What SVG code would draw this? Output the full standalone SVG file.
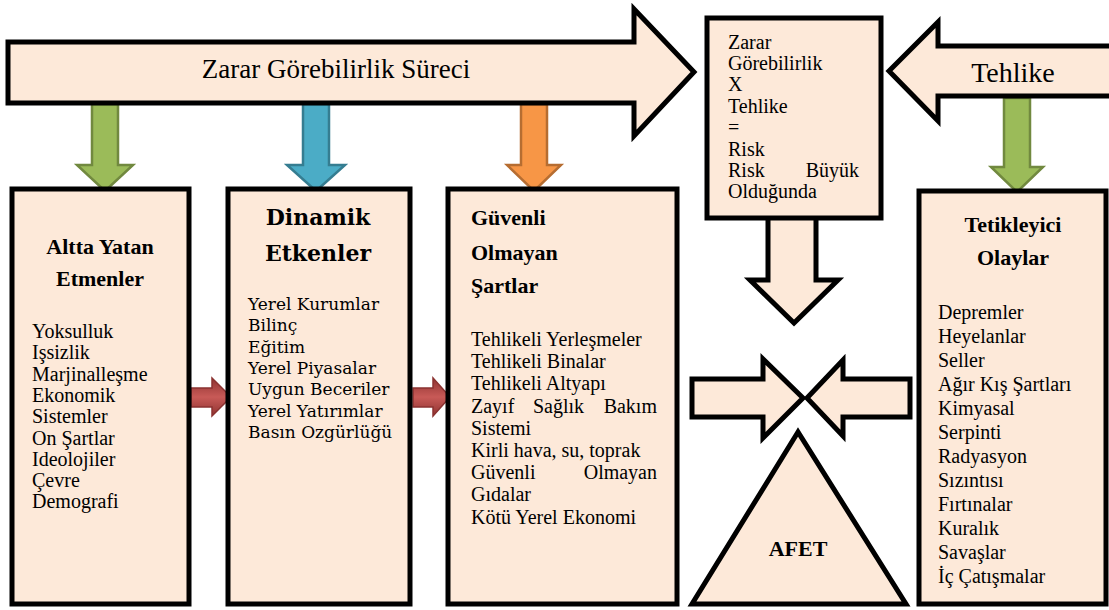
<svg xmlns="http://www.w3.org/2000/svg" width="1109" height="610" viewBox="0 0 1109 610">
  <defs>
    <linearGradient id="redFill" x1="0" y1="0" x2="0" y2="1">
      <stop offset="0" stop-color="#8f3331"/>
      <stop offset="0.5" stop-color="#c85a57"/>
      <stop offset="1" stop-color="#8f3331"/>
    </linearGradient>
  </defs>
  <rect width="1109" height="610" fill="#fff"/>
  <g id="connectors" stroke-width="2.5">
    <polygon fill="#9bbb59" stroke="#71893f" points="92,104 118,104 118,165 133,165 105,191 77,165 92,165"/>
    <polygon fill="#4bacc6" stroke="#357d91" points="303,104 329,104 329,165 345,165 316,191 287,165 303,165"/>
    <polygon fill="#f79646" stroke="#b66d31" points="521,104 547,104 547,165 561,165 534,191 507,165 521,165"/>
    <polygon fill="#9bbb59" stroke="#71893f" points="1004,98 1030,98 1030,167 1043,167 1017,192 991,167 1004,167"/>
    <polygon fill="url(#redFill)" stroke="#8b3230" stroke-width="1.5" points="191,388 212,388 212,378 231,397 212,416 212,407 191,407"/>
    <polygon fill="url(#redFill)" stroke="#8b3230" stroke-width="1.5" points="413,388 433,388 433,378 450,397 433,416 433,407 413,407"/>
  </g>
  <g id="process">
    <polygon fill="#fde9d9" stroke="#000" stroke-width="5" points="8,42 634,42 634,9 694,72 634,136 634,103 8,103"/>
  </g>
  <text x="336" y="78" text-anchor="middle" font-size="27" font-family="Liberation Serif">Zarar Görebilirlik Süreci</text>
  <g id="hazard">
    <polygon fill="#fde9d9" stroke="#000" stroke-width="5" points="1114,46 938,46 938,22 889,71 938,121 938,96 1114,96"/>
    <text x="1013" y="82" text-anchor="middle" font-size="28" font-family="serif">Tehlike</text>
  </g>
  <g id="risk">
    <polygon fill="#fde9d9" stroke="#000" stroke-width="5" points="768,214 768,280 750,280 794,323 838,280 816,280 816,214"/>
    <rect fill="#fde9d9" stroke="#000" stroke-width="5" x="707" y="18" width="174" height="200"/>
    <text x="728" y="49" font-size="20" font-family="Times New Roman">Zarar</text>
    <text x="728" y="70" font-size="20" font-family="Times New Roman">Görebilirlik</text>
    <text x="728" y="91" font-size="20" font-family="Times New Roman">X</text>
    <text x="728" y="112.5" font-size="20" font-family="Times New Roman">Tehlike</text>
    <text x="728" y="134" font-size="20" font-family="Times New Roman">=</text>
    <text x="728" y="155.5" font-size="20" font-family="Times New Roman">Risk</text>
    <text y="177" font-size="20" font-family="Times New Roman"><tspan x="728">Risk</tspan><tspan x="859" text-anchor="end">Büyük</tspan></text>
    <text x="728" y="198" font-size="20" font-family="Times New Roman">Olduğunda</text>
  </g>
  <g id="underlying">
    <rect fill="#fde9d9" stroke="#000" stroke-width="5" x="12" y="189" width="177" height="415"/>
    <text x="100" y="254" text-anchor="middle" style="font-family: 'Liberation Serif', serif; font-size: 22px; font-weight: bold">Altta Yatan</text>
    <text x="100" y="286" text-anchor="middle" style="font-family: 'Liberation Serif', serif; font-size: 22px; font-weight: bold">Etmenler</text>
    <text x="32" y="338" style="font-family: 'Liberation Serif', serif; font-size: 20px">Yoksulluk</text>
    <text x="32" y="359" style="font-family: 'Liberation Serif', serif; font-size: 20px">Işsizlik</text>
    <text x="32" y="380.5" style="font-family: 'Liberation Serif', serif; font-size: 20px">Marjinalleşme</text>
    <text x="32" y="402" style="font-family: 'Liberation Serif', serif; font-size: 20px">Ekonomik</text>
    <text x="32" y="423" style="font-family: 'Liberation Serif', serif; font-size: 20px">Sistemler</text>
    <text x="32" y="444.5" style="font-family: 'Liberation Serif', serif; font-size: 20px">On Şartlar</text>
    <text x="32" y="465.5" style="font-family: 'Liberation Serif', serif; font-size: 20px">Ideolojiler</text>
    <text x="32" y="487" style="font-family: 'Liberation Serif', serif; font-size: 20px">Çevre</text>
    <text x="32" y="508" style="font-family: 'Liberation Serif', serif; font-size: 20px">Demografi</text>
  </g>
  <g id="dynamic">
    <rect fill="#fde9d9" stroke="#000" stroke-width="5" x="228" y="189" width="182" height="415"/>
    <text x="318" y="225" text-anchor="middle" font-size="22" font-weight="bold" font-family="DejaVu Serif">Dinamik</text>
    <text x="318" y="261" text-anchor="middle" font-size="22" font-weight="bold" font-family="DejaVu Serif">Etkenler</text>
    <text x="248" y="310" font-size="17" font-family="DejaVu Serif">Yerel Kurumlar</text>
    <text x="248" y="331" font-size="17" font-family="DejaVu Serif">Bilinç</text>
    <text x="248" y="352.5" font-size="17" font-family="DejaVu Serif">Eğitim</text>
    <text x="248" y="374" font-size="17" font-family="DejaVu Serif">Yerel Piyasalar</text>
    <text x="248" y="395" font-size="17" font-family="DejaVu Serif">Uygun Beceriler</text>
    <text x="248" y="416.5" font-size="17" font-family="DejaVu Serif">Yerel Yatırımlar</text>
    <text x="248" y="438" font-size="17" font-family="DejaVu Serif">Basın Ozgürlüğü</text>
  </g>
  <g id="unsafe">
    <rect fill="#fde9d9" stroke="#000" stroke-width="5" x="448" y="189" width="229" height="415"/>
    <text x="471" y="225" font-size="22" font-weight="bold" font-family="Liberation Serif">Güvenli</text>
    <text x="471" y="260" font-size="22" font-weight="bold" font-family="Liberation Serif">Olmayan</text>
    <text x="471" y="293" font-size="22" font-weight="bold" font-family="Liberation Serif">Şartlar</text>
    <text x="471" y="346" font-size="20" font-family="Liberation Serif">Tehlikeli Yerleşmeler</text>
    <text x="471" y="368" font-size="20" font-family="Liberation Serif">Tehlikeli Binalar</text>
    <text x="471" y="390" font-size="20" font-family="Liberation Serif">Tehlikeli Altyapı</text>
    <text y="413" font-size="20" font-family="Liberation Serif"><tspan x="471">Zayıf</tspan><tspan x="533">Sağlık</tspan><tspan x="657" text-anchor="end">Bakım</tspan></text>
    <text x="471" y="435" font-size="20" font-family="Liberation Serif">Sistemi</text>
    <text x="471" y="457" font-size="20" font-family="Liberation Serif">Kirli hava, su, toprak</text>
    <text y="479" font-size="20" font-family="Liberation Serif"><tspan x="471">Güvenli</tspan><tspan x="657" text-anchor="end">Olmayan</tspan></text>
    <text x="471" y="501" font-size="20" font-family="Liberation Serif">Gıdalar</text>
    <text x="471" y="524" font-size="20" font-family="Liberation Serif">Kötü Yerel Ekonomi</text>
  </g>
  <g id="converge" fill="#fde9d9" stroke="#000" stroke-width="5">
    <polygon points="692,379 763,379 763,359 803,398 763,438 763,417 692,417"/>
    <polygon points="910,379 843,379 843,360 807,398 843,436 843,417 910,417"/>
  </g>
  <g id="disaster">
    <polygon fill="#fde9d9" stroke="#000" stroke-width="5" points="798,432 692,604 906,604"/>
    <text x="798" y="556" text-anchor="middle" font-size="22" font-weight="bold" font-family="Liberation Serif">AFET</text>
  </g>
  <g id="triggers">
    <rect fill="#fde9d9" stroke="#000" stroke-width="5" x="919" y="191" width="187" height="413"/>
    <text x="1013" y="232" text-anchor="middle" font-size="22" font-weight="bold" font-family="Liberation Serif">Tetikleyici</text>
    <text x="1013" y="265" text-anchor="middle" font-size="22" font-weight="bold" font-family="Liberation Serif">Olaylar</text>
    <text x="938" y="319" font-size="20" font-family="Liberation Serif">Depremler</text>
    <text x="938" y="343" font-size="20" font-family="Liberation Serif">Heyelanlar</text>
    <text x="938" y="367" font-size="20" font-family="Liberation Serif">Seller</text>
    <text x="938" y="391" font-size="20" font-family="Liberation Serif">Ağır Kış Şartları</text>
    <text x="938" y="415" font-size="20" font-family="Liberation Serif">Kimyasal</text>
    <text x="938" y="439" font-size="20" font-family="Liberation Serif">Serpinti</text>
    <text x="938" y="463" font-size="20" font-family="Liberation Serif">Radyasyon</text>
    <text x="938" y="487" font-size="20" font-family="Liberation Serif">Sızıntısı</text>
    <text x="938" y="511" font-size="20" font-family="Liberation Serif">Fırtınalar</text>
    <text x="938" y="535" font-size="20" font-family="Liberation Serif">Kuralık</text>
    <text x="938" y="559" font-size="20" font-family="Liberation Serif">Savaşlar</text>
    <text x="938" y="583" font-size="20" font-family="Liberation Serif">İç Çatışmalar</text>
  </g>
</svg>
